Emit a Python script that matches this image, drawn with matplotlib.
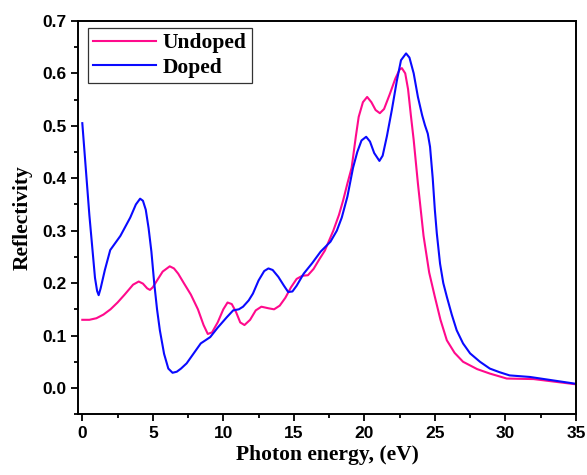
import matplotlib
matplotlib.use('Agg')
import matplotlib.pyplot as plt
from matplotlib.ticker import MultipleLocator, FormatStrFormatter

# Undoped (pink)
x_undoped = [0, 0.5, 1, 1.5, 2, 2.5, 3, 3.6, 4.0, 4.3, 4.6, 4.8, 5.0, 5.3, 5.7, 6.2, 6.5, 6.8,
             7.2, 7.7, 8.2, 8.6, 8.9, 9.2, 9.6, 10.0, 10.3, 10.6, 10.9, 11.2, 11.5, 11.9, 12.3,
             12.7, 13.2, 13.6, 14.0, 14.4, 14.8, 15.2, 15.6, 16.0, 16.4, 16.8, 17.2, 17.8, 18.2,
             18.5, 18.8, 19.1, 19.4, 19.6, 19.9, 20.2, 20.5, 20.8, 21.1, 21.4, 21.8, 22.2, 22.5,
             22.66, 22.9, 23.1, 23.3, 23.5, 23.8, 24.2, 24.6, 25.0, 25.4, 25.85, 26.4, 27.0,
             28.0, 28.9, 30.1, 32.0, 33.5, 35]
y_undoped = [0.13, 0.13, 0.133, 0.14, 0.15, 0.163, 0.178, 0.197, 0.203, 0.199, 0.19, 0.187, 0.192,
             0.205, 0.222, 0.232, 0.228, 0.218, 0.2, 0.178, 0.15, 0.12, 0.103, 0.106, 0.125, 0.15,
             0.163, 0.16, 0.145, 0.125, 0.12, 0.13, 0.148, 0.155, 0.152, 0.15, 0.157, 0.172,
             0.192, 0.208, 0.214, 0.215, 0.227, 0.245, 0.262, 0.30, 0.33, 0.358, 0.39, 0.42,
             0.48, 0.517, 0.545, 0.555, 0.545, 0.53, 0.524, 0.532, 0.56, 0.59, 0.607, 0.61, 0.6,
             0.57, 0.52, 0.473, 0.39, 0.29, 0.22, 0.174, 0.13, 0.091, 0.067, 0.05, 0.036, 0.0275,
             0.018, 0.017, 0.012, 0.007]

# Doped (blue)
x_doped = [0, 0.1, 0.3, 0.5, 0.7, 0.9, 1.05, 1.16, 1.3, 1.6, 1.98, 2.7, 3.4, 3.8, 4.1, 4.3, 4.5,
           4.7, 4.9, 5.1, 5.3, 5.5, 5.8, 6.1, 6.4, 6.7, 7.0, 7.4, 7.9, 8.4, 9.07, 9.6, 10.25,
           10.7, 11.1, 11.4, 11.8, 12.1, 12.5, 12.9, 13.2, 13.5, 13.9, 14.3, 14.6, 14.9, 15.2,
           15.7, 16.3, 16.9, 17.6, 18.05, 18.4, 18.8, 19.2, 19.5, 19.8, 20.13, 20.4, 20.7,
           21.07, 21.3, 21.6, 21.95, 22.3, 22.6, 22.96, 23.2, 23.5, 23.8, 24.1, 24.3, 24.5,
           24.66, 24.85, 25.0, 25.14, 25.37, 25.6, 25.85, 26.2, 26.55, 27.0, 27.5, 28.2, 28.9,
           29.6, 30.3, 31.75, 33.5, 35]
y_doped = [0.505, 0.47, 0.40, 0.33, 0.27, 0.21, 0.185, 0.177, 0.19, 0.225, 0.263, 0.29, 0.325,
           0.35, 0.361, 0.357, 0.34, 0.305, 0.26, 0.20, 0.15, 0.11, 0.065, 0.037, 0.029, 0.031,
           0.037, 0.047, 0.066, 0.085, 0.097, 0.115, 0.135, 0.148, 0.15, 0.155, 0.167, 0.18,
           0.205, 0.223, 0.228, 0.225, 0.212, 0.195, 0.183, 0.184, 0.195, 0.218, 0.238, 0.26,
           0.279, 0.30, 0.325, 0.365, 0.42, 0.45, 0.472, 0.479, 0.47, 0.448, 0.433, 0.443, 0.48,
           0.53, 0.585, 0.625, 0.638, 0.63, 0.6, 0.555, 0.52, 0.501, 0.485, 0.46, 0.40, 0.34,
           0.295, 0.237, 0.2, 0.174, 0.14, 0.11, 0.085, 0.066, 0.05, 0.037, 0.03, 0.024, 0.021,
           0.014, 0.008]

fig = plt.figure(figsize=(5.87, 4.75), dpi=100)
ax = fig.add_axes([0.133, 0.128, 0.848, 0.828])

ax.plot(x_undoped, y_undoped, color='#FF0A8C', lw=1.5, label='Undoped')
ax.plot(x_doped, y_doped, color='#0A0AFF', lw=1.5, label='Doped')

ax.set_xlim(-0.3, 35)
ax.set_ylim(-0.05, 0.7)
ax.xaxis.set_major_locator(MultipleLocator(5))
ax.xaxis.set_minor_locator(MultipleLocator(2.5))
ax.yaxis.set_major_locator(MultipleLocator(0.1))
ax.yaxis.set_minor_locator(MultipleLocator(0.05))
ax.yaxis.set_major_formatter(FormatStrFormatter('%.1f'))
ax.tick_params(which='both', direction='out', top=False, right=False, width=1.3)
ax.tick_params(which='major', length=5)
ax.tick_params(which='minor', length=3)
for lab in ax.get_xticklabels() + ax.get_yticklabels():
    lab.set_fontfamily('Liberation Sans')
    lab.set_fontweight('bold')
    lab.set_fontsize(12.5)
for s in ax.spines.values():
    s.set_linewidth(1.4)

ax.set_xlabel('Photon energy, (eV)', fontfamily='Liberation Serif', fontweight='bold', fontsize=15.5, labelpad=3)
ax.set_ylabel('Reflectivity', fontfamily='Liberation Serif', fontweight='bold', fontsize=15.5, labelpad=7)

leg = ax.legend(loc='upper left', bbox_to_anchor=(0.02, 0.982), borderaxespad=0, fancybox=False,
                edgecolor='black', prop={'family': 'Liberation Serif', 'weight': 'bold', 'size': 15.5},
                handlelength=2.9, borderpad=0.25, labelspacing=0.2, handletextpad=0.3)
leg.get_frame().set_linewidth(0.9)

fig.savefig('out.png', dpi=100)
